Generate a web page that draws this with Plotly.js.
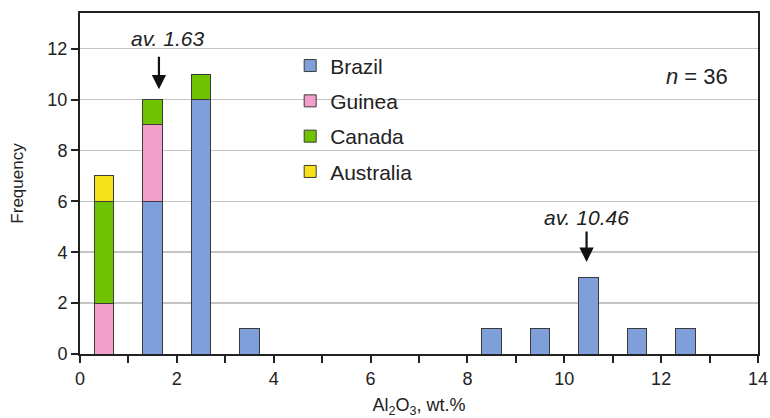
<!DOCTYPE html>
<html><head><meta charset="utf-8">
<script src="https://cdn.plot.ly/plotly-3.0.1.min.js"></script>
<style>body{margin:0;background:#fff}#c{width:770px;height:418px}</style>
</head><body><div id="c"></div>
<script>
const binCenters = [0.5,1.5,2.5,3.5,4.5,5.5,6.5,7.5,8.5,9.5,10.5,11.5,12.5,13.5];
const brazil    = [0,6,10,1,0,0,0,0,1,1,3,1,1,0];
const guinea    = [2,3,0,0,0,0,0,0,0,0,0,0,0,0];
const canada    = [4,1,1,0,0,0,0,0,0,0,0,0,0,0];
const australia = [1,0,0,0,0,0,0,0,0,0,0,0,0,0];
const seriesNames = ['Brazil','Guinea','Canada','Australia'];
const xTickVals = [0,1,2,3,4,5,6,7,8,9,10,11,12,13,14];
const xTickText = ['0','','2','','4','','6','','8','','10','','12','','14'];
const averages = [1.63, 10.46];
const avLabels = ['av. 1.63','av. 10.46'];
const nTotal = 36;

const colors = ['#7f9fdb','#f29fcb','#6fc300','#f7e11a'];
const data = [brazil, guinea, canada, australia].map((v,i)=>({
  type:'bar', x:binCenters, y:v, name:seriesNames[i], legendgroup:'g'+i,
  width:0.4,
  marker:{color:colors[i], line:{color:'#3a3a3a', width:1}},
  hoverinfo:'none'
}));

const fnt = 'Liberation Sans, Arial, sans-serif';
const layout = {
  width:770, height:418,
  margin:{l:80, r:12, t:13, b:64},
  barmode:'stack',
  plot_bgcolor:'#fff', paper_bgcolor:'#fff',
  font:{family:fnt, color:'#222'},
  showlegend:true,
  legend:{x:0.31, y:0.905, xanchor:'left', yanchor:'top', traceorder:'grouped', tracegroupgap:5,
          font:{size:21, family:fnt, color:'#222'}, bgcolor:'rgba(0,0,0,0)'},
  xaxis:{range:[0,14], tickvals:xTickVals, ticktext:xTickText, ticks:'outside', ticklen:7, tickwidth:2,
         tickcolor:'#222', showline:true, linecolor:'#222', linewidth:2, mirror:true, showgrid:false,
         zeroline:false, tickfont:{size:18, family:fnt},
         title:{text:'Al<sub>2</sub>O<sub>3</sub>, wt.%', font:{size:18, family:fnt}, standoff:14}},
  yaxis:{range:[0,13.4], dtick:2, ticks:'outside', ticklen:7, tickwidth:2, tickcolor:'#222',
         showline:true, linecolor:'#222', linewidth:2, mirror:true, showgrid:true, gridcolor:'#c4c4c4',
         gridwidth:1.5, zeroline:false, tickfont:{size:18, family:fnt},
         title:{text:'Frequency', font:{size:17, family:fnt}, standoff:19}},
  annotations:[
    {x:averages[0], y:10.4, ax:0, ay:-34, text:'', showarrow:true, arrowhead:2, arrowsize:1.3, arrowwidth:2.2, arrowcolor:'#111'},
    {x:averages[0], y:12.4, xshift:9, text:'<i>'+avLabels[0]+'</i>', showarrow:false, font:{size:21, family:fnt, color:'#222'}},
    {x:averages[1], y:3.62, ax:0, ay:-32, text:'', showarrow:true, arrowhead:2, arrowsize:1.3, arrowwidth:2.2, arrowcolor:'#111'},
    {x:averages[1], y:5.35, text:'<i>'+avLabels[1]+'</i>', showarrow:false, font:{size:21, family:fnt, color:'#222'}},
    {x:13.43, y:10.9, xanchor:'right', text:'<i>n</i> = '+nTotal, showarrow:false, font:{size:22, family:fnt, color:'#222'}}
  ]
};
Plotly.newPlot('c', data, layout, {staticPlot:true});
</script></body></html>
